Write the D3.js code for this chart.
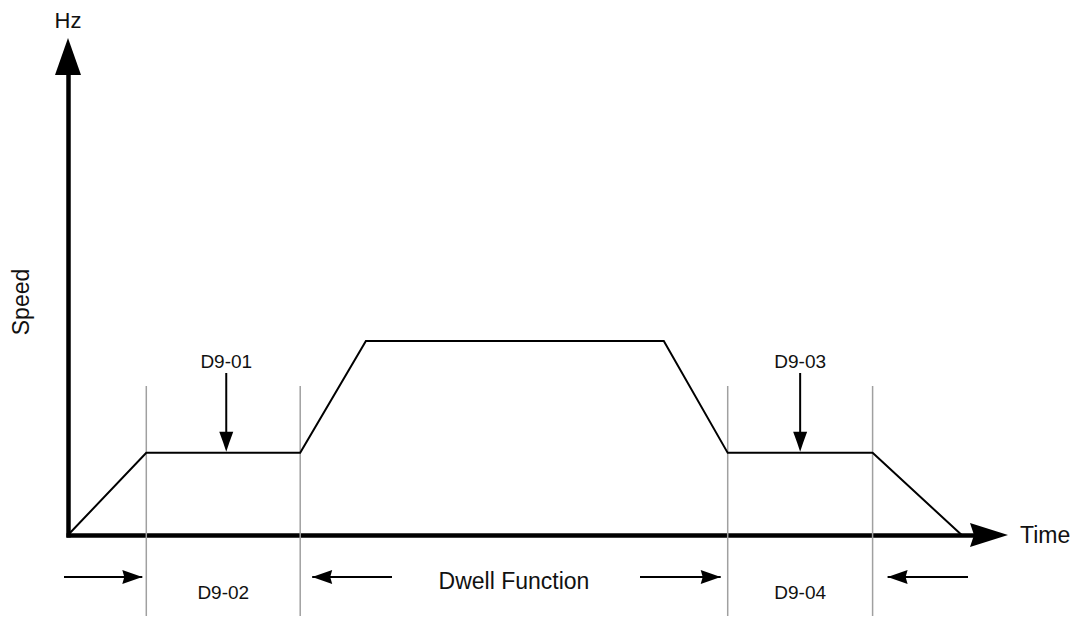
<!DOCTYPE html>
<html>
<head>
<meta charset="utf-8">
<script src="https://cdn.jsdelivr.net/npm/d3@7"></script>
<style>
  html, body { margin: 0; padding: 0; background: #fff; }
  svg text { font-family: "Liberation Sans", Arial, sans-serif; fill: #111; }
</style>
</head>
<body>
<div id="chart"></div>
<script>
// Speed profile (time units, Hz)
var profileTime  = [0, 8.7, 25.8, 33.1, 66.2, 73.3, 89.4, 99.3];
var profileSpeed = [0, 25.4, 25.4, 60, 60, 25.4, 25.4, 0];

// Dwell intervals: [start, end] in time units
var dwellIntervals = [[8.7, 25.8], [73.3, 89.4]];
var dwellLevelLabels = ["D9-01", "D9-03"];
var dwellTimeLabels = ["D9-02", "D9-04"];
var middleLabel = "Dwell Function";

var width = 1082, height = 618;

var svg = d3.select("#chart").append("svg")
  .attr("width", width)
  .attr("height", height);

// Scales
var x = d3.scaleLinear().domain([0, 100]).range([68, 968]);
var y = d3.scaleLinear().domain([0, 60]).range([535, 341]);

var data = profileTime.map(function(t, i) { return {t: t, v: profileSpeed[i]}; });

// Axes: no ticks, just the thick baselines extended to arrows
var xAxisScale = x.copy().domain([0, x.invert(975)]).range([66, 975]);
var yAxisScale = y.copy().domain([y.invert(70), 0]).range([70, 537]);

svg.append("g")
  .attr("transform", "translate(0," + y(0) + ")")
  .call(d3.axisBottom(xAxisScale).tickValues([]).tickSizeOuter(0))
  .select(".domain")
  .attr("stroke", "#000")
  .attr("stroke-width", 4.5);

svg.append("g")
  .attr("transform", "translate(" + x(0) + ",0)")
  .call(d3.axisLeft(yAxisScale).tickValues([]).tickSizeOuter(0))
  .select(".domain")
  .attr("stroke", "#000")
  .attr("stroke-width", 4.5);

// Axis arrowheads
var yTop = 38;
svg.append("path")
  .attr("d", "M" + x(0) + "," + yTop + " L" + (x(0) + 13) + "," + (yTop + 37) +
             " L" + (x(0) - 13) + "," + (yTop + 37) + " Z")
  .attr("fill", "#000");

var xTip = 1008;
svg.append("path")
  .attr("d", "M" + xTip + "," + y(0) + " L" + (xTip - 38) + "," + (y(0) - 12) +
             " L" + (xTip - 34) + "," + y(0) +
             " L" + (xTip - 38) + "," + (y(0) + 12) + " Z")
  .attr("fill", "#000");

// Axis labels
svg.append("text")
  .attr("x", x(0))
  .attr("y", 28)
  .attr("text-anchor", "middle")
  .attr("font-size", "22px")
  .text("Hz");

svg.append("text")
  .attr("x", 1020)
  .attr("y", 543)
  .attr("font-size", "23px")
  .text("Time");

svg.append("text")
  .attr("transform", "translate(29,302) rotate(-90)")
  .attr("text-anchor", "middle")
  .attr("font-size", "23px")
  .text("Speed");

// Gray boundary lines of dwell intervals
var bounds = [];
dwellIntervals.forEach(function(d) { bounds.push(d[0], d[1]); });
svg.append("g")
  .selectAll("line")
  .data(bounds)
  .enter()
  .append("line")
  .attr("x1", function(d) { return x(d); })
  .attr("x2", function(d) { return x(d); })
  .attr("y1", 386)
  .attr("y2", 616)
  .attr("stroke", "#a0a0a0")
  .attr("stroke-width", 1.5);

// Speed profile
var line = d3.line()
  .x(function(d) { return x(d.t); })
  .y(function(d) { return y(d.v); });

svg.append("path")
  .datum(data)
  .attr("d", line)
  .attr("fill", "none")
  .attr("stroke", "#000")
  .attr("stroke-width", 2);

// Dwell level labels with down arrows
dwellIntervals.forEach(function(d, i) {
  var cx = x((d[0] + d[1]) / 2) + (i === 0 ? 3 : 0);
  var level = y(profileSpeed[i === 0 ? 1 : 5]);
  svg.append("text")
    .attr("x", cx)
    .attr("y", 368)
    .attr("text-anchor", "middle")
    .attr("font-size", "19px")
    .attr("fill", "#222")
    .text(dwellLevelLabels[i]);
  svg.append("line")
    .attr("x1", cx).attr("x2", cx)
    .attr("y1", 373).attr("y2", level - 14)
    .attr("stroke", "#000")
    .attr("stroke-width", 2);
  svg.append("path")
    .attr("d", "M" + (cx - 7) + "," + (level - 21) + " L" + (cx + 7) + "," + (level - 21) +
               " L" + (cx + 3) + "," + (level - 10) + " L" + cx + "," + (level - 1) +
               " L" + (cx - 3) + "," + (level - 10) + " Z")
    .attr("fill", "#000");
});

// Bottom dimension arrows
var arrowY = 577;
function hArrow(x1, x2, dir) {
  // dir 1 -> tip at x2 pointing right, dir -1 -> tip at x1 pointing left
  var g = svg.append("g");
  g.append("line")
    .attr("x1", x1).attr("x2", x2)
    .attr("y1", arrowY).attr("y2", arrowY)
    .attr("stroke", "#000")
    .attr("stroke-width", 2);
  var tip = dir > 0 ? x2 : x1;
  var base = tip - dir * 20;
  g.append("path")
    .attr("d", "M" + tip + "," + arrowY + " L" + base + "," + (arrowY - 7) +
               " L" + (base + dir * 2) + "," + arrowY +
               " L" + base + "," + (arrowY + 7) + " Z")
    .attr("fill", "#000");
}

hArrow(64, x(dwellIntervals[0][0]) - 4, 1);
hArrow(x(dwellIntervals[0][1]) + 12, 392, -1);
hArrow(640, x(dwellIntervals[1][0]) - 7, 1);
hArrow(x(dwellIntervals[1][1]) + 15, 968, -1);

dwellIntervals.forEach(function(d, i) {
  svg.append("text")
    .attr("x", x((d[0] + d[1]) / 2))
    .attr("y", 599)
    .attr("text-anchor", "middle")
    .attr("font-size", "19px")
    .attr("fill", "#222")
    .text(dwellTimeLabels[i]);
});

svg.append("text")
  .attr("x", x((dwellIntervals[0][1] + dwellIntervals[1][0]) / 2))
  .attr("y", 589)
  .attr("text-anchor", "middle")
  .attr("font-size", "23px")
  .text(middleLabel);
</script>
</body>
</html>
